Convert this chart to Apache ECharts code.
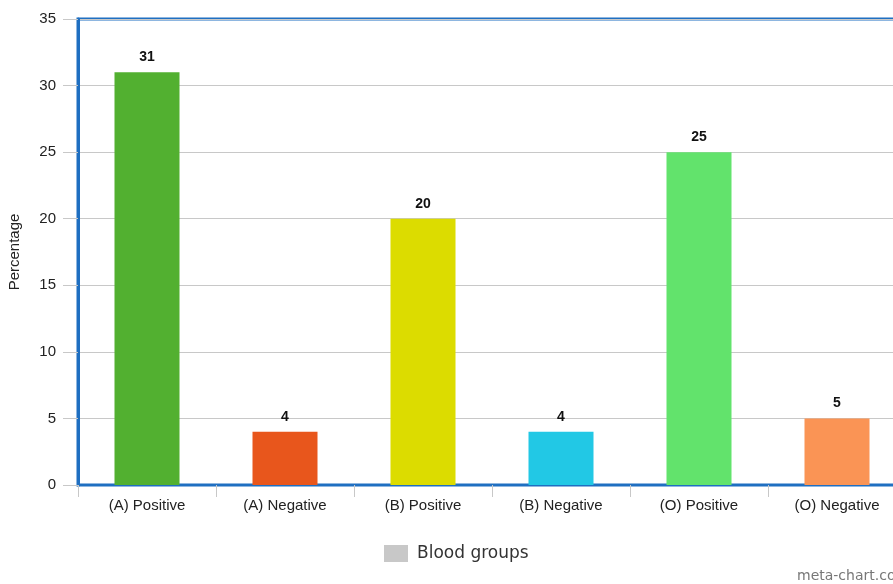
<!DOCTYPE html>
<html>
<head>
<meta charset="utf-8">
<script src="https://cdn.jsdelivr.net/npm/echarts@6/dist/echarts.min.js"></script>
<style>
html, body { margin: 0; padding: 0; background: #fff; overflow: hidden; }
#main { width: 893px; height: 584px; }
</style>
</head>
<body>
<div id="main"></div>
<script>
var categories = ['(A) Positive', '(A) Negative', '(B) Positive', '(B) Negative', '(O) Positive', '(O) Negative'];
var values = [31, 4, 20, 4, 25, 5];
var barColors = ['#52b030', '#e8561c', '#dcdc00', '#22c8e5', '#62e36c', '#fa9455'];

var myChart = echarts.init(document.getElementById('main'));
var option;

option = {
    backgroundColor: '#ffffff',
    animation: false,
    grid: {
        left: 78,
        width: 828,
        top: 19,
        bottom: 99,
        outerBoundsMode: 'none',
        containLabel: false,
        show: true,
        borderColor: '#1f6fc1',
        borderWidth: 3,
        backgroundColor: 'transparent'
    },
    legend: {
        data: ['Blood groups'],
        bottom: 22,
        left: 384,
        padding: 0,
        icon: 'rect',
        itemWidth: 24,
        itemHeight: 17,
        itemGap: 8,
        textStyle: {
            fontFamily: 'DejaVu Sans',
            fontSize: 17,
            color: '#333',
            padding: [0, 0, 0, 4]
        }
    },
    xAxis: {
        type: 'category',
        data: categories,
        axisLine: { lineStyle: { color: '#1f6fc1', width: 2 } },
        axisTick: { show: true, length: 12, lineStyle: { color: '#c8c8c8' } },
        axisLabel: {
            fontFamily: 'Liberation Sans',
            fontSize: 15,
            color: '#222',
            margin: 13
        }
    },
    yAxis: {
        type: 'value',
        min: 0,
        max: 35,
        interval: 5,
        name: 'Percentage',
        nameLocation: 'middle',
        nameGap: 56,
        nameTextStyle: {
            fontFamily: 'Liberation Sans',
            fontSize: 15,
            color: '#222'
        },
        axisLine: { show: true, lineStyle: { color: '#1f6fc1', width: 3 } },
        axisTick: { show: true, length: 15, lineStyle: { color: '#c8c8c8' } },
        axisLabel: {
            fontFamily: 'Liberation Sans',
            fontSize: 15,
            color: '#222',
            margin: 22
        },
        splitLine: { lineStyle: { color: '#c8c8c8', width: 1 } }
    },
    series: [
        {
            name: 'Blood groups',
            type: 'bar',
            barWidth: 65,
            itemStyle: { color: '#c8c8c8' },
            label: {
                show: true,
                position: 'top',
                distance: 8,
                fontFamily: 'Liberation Sans',
                fontWeight: 'bold',
                fontSize: 14,
                color: '#111'
            },
            data: values.map(function (v, i) {
                return { value: v, itemStyle: { color: barColors[i] } };
            })
        }
    ],
    graphic: [
        {
            type: 'text',
            left: 797,
            bottom: 1,
            style: {
                text: 'meta-chart.co',
                fontFamily: 'DejaVu Sans',
                fontSize: 14,
                fill: '#777'
            }
        }
    ]
};

option && myChart.setOption(option);
</script>
</body>
</html>
